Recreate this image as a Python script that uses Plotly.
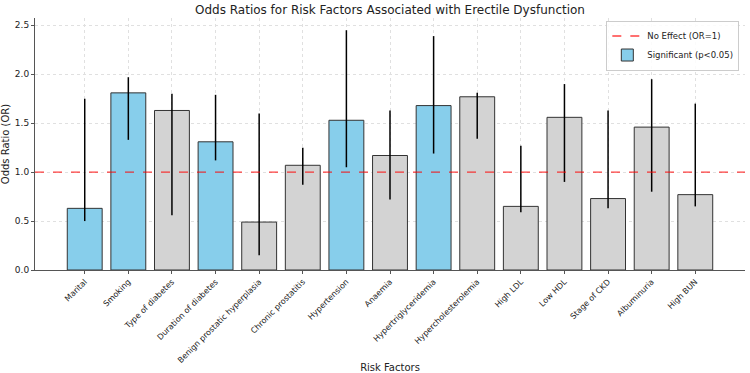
import plotly.graph_objects as go

factors = ["Marital", "Smoking", "Type of diabetes", "Duration of diabetes",
           "Benign prostatic hyperplasia", "Chronic prostatitis", "Hypertension",
           "Anaemia", "Hypertriglyceridemia", "Hypercholesterolemia", "High LDL",
           "Low HDL", "Stage of CKD", "Albuminuria", "High BUN"]
odds_ratio = [0.63, 1.81, 1.63, 1.31, 0.49, 1.07, 1.53, 1.17, 1.68, 1.77, 0.65, 1.56, 0.73, 1.46, 0.77]
ci_lower = [0.50, 1.33, 0.56, 1.12, 0.15, 0.87, 1.05, 0.72, 1.19, 1.34, 0.59, 0.90, 0.63, 0.80, 0.65]
ci_upper = [1.75, 1.97, 1.80, 1.79, 1.60, 1.25, 2.45, 1.63, 2.39, 1.81, 1.27, 1.90, 1.63, 1.95, 1.70]
significant = [True, True, False, True, False, False, True, False, True, False, False, False, False, False, False]

FONT = "DejaVu Sans"

def subset(flag):
    idx = [i for i, s in enumerate(significant) if s == flag]
    return ([factors[i] for i in idx], [odds_ratio[i] for i in idx],
            [ci_upper[i] - odds_ratio[i] for i in idx],
            [odds_ratio[i] - ci_lower[i] for i in idx])

fig = go.Figure()
for flag, color in [(False, "#D3D3D3"), (True, "#87CEEB")]:
    x, y, up, lo = subset(flag)
    fig.add_trace(go.Bar(
        x=x, y=y, width=0.8,
        marker=dict(color=color, line=dict(color="#333333", width=1)),
        error_y=dict(type="data", symmetric=False, array=up, arrayminus=lo,
                     color="black", thickness=1.5, width=0),
        name="Significant (p<0.05)" if flag else "Not significant",
        showlegend=flag, legendrank=2,
    ))

fig.add_hline(y=1, line=dict(color="rgba(255,0,0,0.75)", dash="dash", width=1.3),
              showlegend=True, name="No Effect (OR=1)", legendrank=1, layer="above")

fig.update_layout(
    width=750, height=373,
    margin=dict(l=35, r=5, t=18, b=103, autoexpand=False),
    plot_bgcolor="white", paper_bgcolor="white",
    barmode="overlay",
    font=dict(family=FONT, size=9, color="#222222"),
    title=dict(text="Odds Ratios for Risk Factors Associated with Erectile Dysfunction",
               x=0.52, xanchor="center", y=0.985, yanchor="top",
               font=dict(size=12, family=FONT, color="#222222")),
    legend=dict(x=0.992, xanchor="right", y=0.99, yanchor="top",
                bgcolor="rgba(255,255,255,0.85)", bordercolor="#cccccc", borderwidth=1,
                font=dict(size=8.5, family=FONT), tracegroupgap=0, itemwidth=30),
    showlegend=True,
)
fig.update_xaxes(
    automargin=False,
    categoryorder="array", categoryarray=factors,
    range=[-1.14, 15.14], tickangle=-45, tickfont=dict(size=8),
    showline=True, linecolor="#555555", linewidth=1,
    ticks="outside", ticklen=3, tickcolor="#555555",
    showgrid=True, gridcolor="#e0e0e0", griddash="dot", gridwidth=1,
    title=dict(text="Risk Factors", font=dict(size=10), standoff=8),
)
fig.update_yaxes(
    automargin=False,
    range=[0, 2.575], dtick=0.5, tickformat=".1f", tickfont=dict(size=9),
    showline=True, linecolor="#555555", linewidth=1,
    ticks="outside", ticklen=3, tickcolor="#555555",
    showgrid=True, gridcolor="#e0e0e0", griddash="dot", gridwidth=1,
    zeroline=False,
    title=dict(text="Odds Ratio (OR)", font=dict(size=10), standoff=4),
)

fig.write_html("out.html", config={"displayModeBar": False},
               post_script="document.body.style.margin='0';document.body.style.padding='0';")
